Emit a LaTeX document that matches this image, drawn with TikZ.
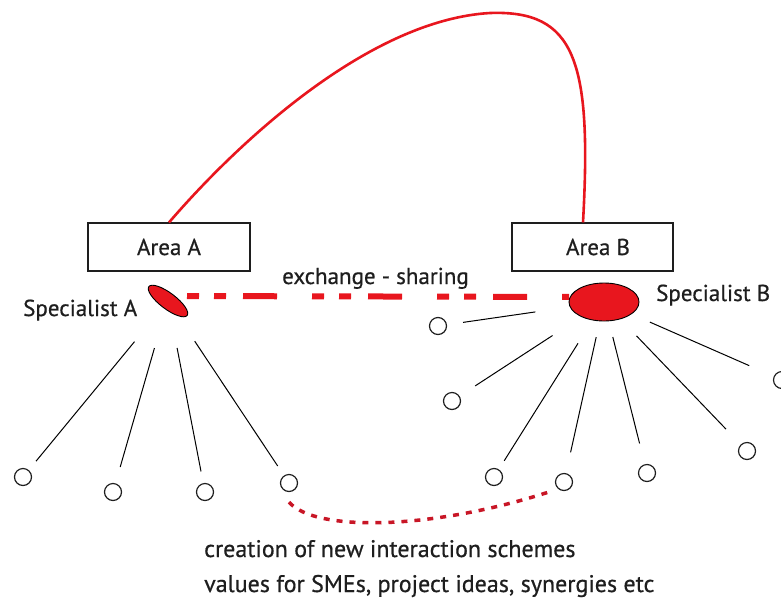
\documentclass[tikz,border=0pt]{standalone}
\usepackage{fontspec}
\setmainfont[FakeBold=0.6]{PT Sans}
\usetikzlibrary{shapes.geometric,calc}
\definecolor{mred}{RGB}{232,22,30}
\definecolor{dred}{RGB}{200,22,38}
\definecolor{ink}{RGB}{30,30,30}
\begin{document}
\begin{tikzpicture}[x=1pt,y=-1pt,
  font=\fontsize{23}{28}\selectfont,
  areabox/.style={draw=ink, line width=1.1pt, minimum width=162pt, minimum height=48pt, inner sep=0pt, text=ink},
  spec/.style={ellipse, draw=black, line width=0.9pt, fill=mred, inner sep=0pt},
  dot/.style={circle, draw=ink, line width=1.2pt, minimum size=17pt, inner sep=0pt},
  spoke/.style 2 args={draw=black, line width=1pt, shorten <=#1pt, shorten >=#2pt},
  txt/.style={text=ink, inner sep=0pt},
  bigtxt/.style={txt, font=\fontsize{24}{29}\selectfont},
  arcline/.style={draw=mred, line width=2.6pt},
  exch/.style={draw=mred, line width=6pt, dash pattern=on 12pt off 15pt on 12pt off 17pt on 34pt off 35pt},
  dotline/.style={draw=dred, line width=3.5pt, dash pattern=on 6pt off 7pt}]
\useasboundingbox (0,0) rectangle (781,600);
\clip (0,0) rectangle (781,600);

% area boxes
\node[areabox] (areaA) at (169,247) {Area A};
\node[areabox, minimum width=161pt] (areaB) at (592.5,247) {\hspace*{11pt}Area B};

% specialists
\node[spec, minimum width=48pt, minimum height=16pt, rotate=-37] (spA) at (168,301) {};
\node[spec, minimum width=70pt, minimum height=38pt] (spB) at (604,302) {};

% labels
\node[txt, anchor=base west] (tSA) at (23,316) {Specialist A};
\node[txt, anchor=base west] (tSB) at (656,301) {Specialist B};
\node[txt, anchor=base west] (tEx) at (282,284) {exchange - sharing};
\node[bigtxt, anchor=base west] (tCr1) at (204,557) {creation of new interaction schemes};
\node[bigtxt, anchor=base west] (tCr2) at (204,592) {values for SMEs, project ideas, synergies etc};

% small circles
\node[dot] (c1) at (23,477) {};
\node[dot] (c2) at (113,492) {};
\node[dot] (c3) at (205,492) {};
\node[dot] (c4) at (289,483) {};
\node[dot] (d1) at (438,326) {};
\node[dot] (d2) at (452,401) {};
\node[dot] (d3) at (494,477) {};
\node[dot] (d4) at (564,482) {};
\node[dot] (d5) at (647,473) {};
\node[dot] (d6) at (747,451) {};
\node[dot] (d7) at (782,380) {};

% spokes
\draw[spoke={52.6}{20.5}] (spA.center) -- (c1.center);
\draw[spoke={49}{26}] (spA.center) -- (c2.center);
\draw[spoke={47.8}{20.9}] (spA.center) -- (c3.center);
\draw[spoke={48.3}{20.4}] (spA.center) -- (c4.center);
\draw[spoke={69.4}{25.3}] (spB.center) -- (d1.center);
\draw[spoke={61.4}{27.7}] (spB.center) -- (d2.center);
\draw[spoke={48.8}{19.2}] (spB.center) -- (d3.center);
\draw[spoke={36}{30.4}] (spB.center) -- (d4.center);
\draw[spoke={36.1}{30.5}] (spB.center) -- (d5.center);
\draw[spoke={47}{30.4}] (spB.center) -- (d6.center);
\draw[spoke={50.1}{35.8}] (spB.center) -- (d7.center);

% arc between areas
\coordinate (peak) at (490,13);
\draw[arcline] (areaA.north) .. controls (240,140) and (370,20) .. (peak)
  .. controls (575,10) and (592,60) .. ([xshift=-9.5pt]areaB.north);

% exchange - sharing
\draw[exch, shorten <=19pt, shorten >=35pt] ([yshift=5pt]spA.center) -- ([yshift=5pt]spB.center);

% dotted curve
\draw[dotline] ([yshift=-10pt]c4.south) .. controls (315,532) and (430,530) .. ([xshift=-10pt,yshift=-4pt]d4.south west);
\end{tikzpicture}
\end{document}
